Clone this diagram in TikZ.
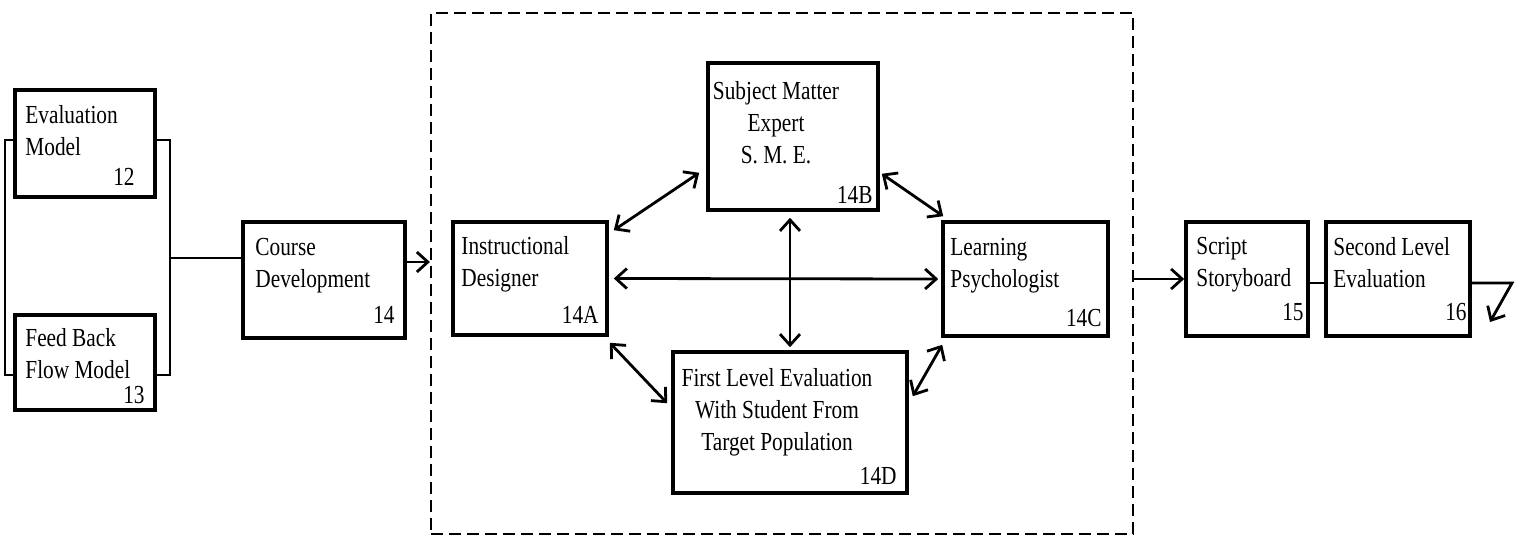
\documentclass[tikz,border=0pt]{standalone}
\usepackage{fontspec}
\setmainfont[FakeStretch=0.82]{Liberation Serif}
\usetikzlibrary{arrows.meta,calc,fit}

\begin{document}
\begin{tikzpicture}[x=1pt,y=-1pt,
  blk/.style={draw, line width=3.6pt, rectangle, inner sep=0pt},
  frame/.style={draw, line width=2.2pt, dash pattern=on 12pt off 6pt, rectangle, inner sep=0pt},
  txt/.style={font=\fontsize{26}{32}\selectfont, inner sep=0pt, align=left},
  ctxt/.style={font=\fontsize{26}{32}\selectfont, inner sep=0pt, align=center},
  num/.style={font=\fontsize{26}{32}\selectfont, inner sep=0pt, anchor=south east},
  wire/.style={line width=2.8pt},
  arr/.style={wire, -{Straight Barb[length=11pt,width=20pt]}},
  dbl/.style={wire, {Straight Barb[length=11pt,width=20pt]}-{Straight Barb[length=11pt,width=20pt]}}]

\fill[white] (0,0) rectangle (1520,540);
\useasboundingbox (0,0) rectangle (1520,540);

% models feeding the course
\node[blk, fit={(15,90)(155,197)}] (e12) {};
\node[txt, anchor=north west] (e12t) at ($(e12.north west)+(12,17)$) {Evaluation\\Model};
\node[num] (e12n) at ($(e12.south east)+(-22,-13)$) {12};

\node[blk, fit={(15,315)(155,410)}] (f13) {};
\node[txt, anchor=north west] (f13t) at ($(f13.north west)+(12,15)$) {Feed Back\\Flow Model};
\node[num] (f13n) at ($(f13.south east)+(-12,-8)$) {13};

\node[blk, fit={(243,222)(405,338)}] (c14) {};
\node[txt, anchor=north west] (c14t) at ($(c14.north west)+(14,18)$) {Course\\Development};
\node[num] (c14n) at ($(c14.south east)+(-12,-16)$) {14};

% development team
\node[frame, fit={(431,13)(1133,534)}] (team) {};

\node[blk, fit={(453,222)(607,335)}] (a14A) {};
\node[txt, anchor=north west] (a14At) at ($(a14A.north west)+(10,16)$) {Instructional\\Designer};
\node[num] (a14An) at ($(a14A.south east)+(-10,-13)$) {14A};

\node[blk, fit={(708,63)(878,210)}] (b14B) {};
\node[ctxt, anchor=north] (b14Bt) at ($(b14B.north)+(-17,20)$) {Subject Matter\\Expert\\S. M. E.};
\node[num] (b14Bn) at ($(b14B.south east)+(-7,-8)$) {14B};

\node[blk, fit={(943,222)(1108,336)}] (c14C) {};
\node[txt, anchor=north west] (c14Ct) at ($(c14C.north west)+(9,18)$) {Learning\\Psychologist};
\node[num] (c14Cn) at ($(c14C.south east)+(-8,-11)$) {14C};

\node[blk, fit={(673,352)(907,493)}] (d14D) {};
\node[ctxt, anchor=north] (d14Dt) at ($(d14D.north)+(-13,18)$) {First Level Evaluation\\With Student From\\Target Population};
\node[num] (d14Dn) at ($(d14D.south east)+(-12,-10)$) {14D};

% later stages
\node[blk, fit={(1186,222)(1308,336)}] (s15) {};
\node[txt, anchor=north west] (s15t) at ($(s15.north west)+(12,17)$) {Script\\Storyboard};
\node[num] (s15n) at ($(s15.south east)+(-6,-17)$) {15};

\node[blk, fit={(1326,222)(1470,336)}] (l16) {};
\node[txt, anchor=north west] (l16t) at ($(l16.north west)+(9,17)$) {Second Level\\Evaluation};
\node[num] (l16n) at ($(l16.south east)+(-5,-17)$) {16};

% bracket joining the two models
\draw[wire] (e12.west |- 0,140) -| (5,375) -- (f13.west |- 0,375);
\draw[wire] (e12.east |- 0,140) -| (170,375) -- (f13.east |- 0,375);
\draw[wire] (170,258) -- (c14.west |- 0,258);

% flow through the stages
\coordinate (cout) at ([yshift=18pt]c14.east);
\draw[arr] (cout) -- (cout -| team.west);
\draw[arr] (team.east |- s15.west) -- (s15.west);
\draw[wire] ([yshift=-4pt]s15.east) -- ([yshift=-4pt]l16.west);
\coordinate (zz) at (1512,283);
\coordinate (zend) at (1490,322);
\draw[arr] ([yshift=-4pt]l16.east) -- (zz) -- (zend);

% exchanges inside the team
\draw[dbl] ([shift={(5,10)}]a14A.north east) -- ([shift={(-7,-39)}]b14B.south west);
\draw[dbl] ([shift={(2,-38)}]b14B.south east) -- ([shift={(2,-4)}]c14C.north west);
\draw[dbl] ([xshift=5pt]a14A.east) -- ([xshift=-3pt]c14C.west);
\coordinate (vtop) at ([yshift=-6pt]b14B.south);
\draw[dbl] (vtop -| d14D.north) -- ([yshift=3pt]d14D.north);
\draw[dbl] ([shift={(1,6)}]a14A.south east) -- ([shift={(-4,53)}]d14D.north west);
\draw[dbl] ([shift={(4,46)}]d14D.north east) -- ([shift={(1,7)}]c14C.south west);
\end{tikzpicture}
\end{document}
